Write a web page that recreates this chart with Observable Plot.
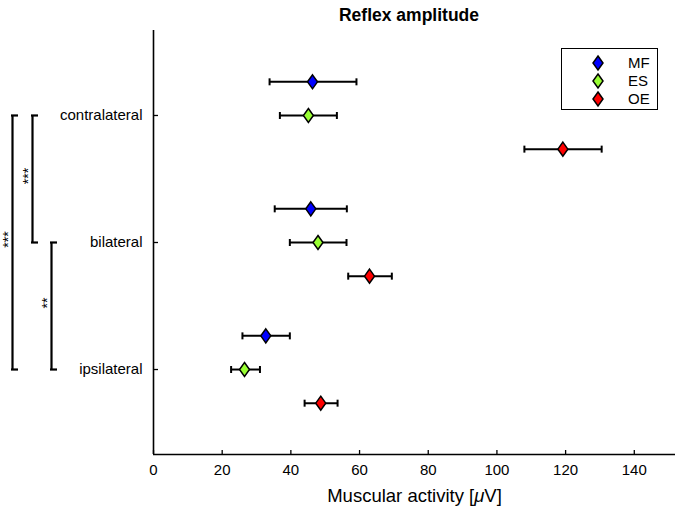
<!DOCTYPE html>
<html><head><meta charset="utf-8">
<script src="https://cdn.jsdelivr.net/npm/d3@7"></script>
<script src="https://cdn.jsdelivr.net/npm/@observablehq/plot@0.6"></script>
<style>
body{margin:0;background:#fff;font-family:"Liberation Sans",Arial,Helvetica,sans-serif;color:#000;}
#wrap{position:relative;width:680px;height:510px;overflow:hidden;}
#title{position:absolute;left:153px;top:5px;width:512px;text-align:center;font-weight:bold;font-size:17.5px;line-height:20px;}
#chart{position:absolute;left:0;top:26px;}
#legend{position:absolute;left:561px;top:48px;width:95px;height:60px;border:1px solid #000;background:#fff;}
.lrow{position:absolute;left:0;width:95px;height:18px;}
.lrow svg{position:absolute;left:28px;top:0;}
.lrow span{position:absolute;left:66px;top:0;font-size:15px;line-height:18px;}
</style></head>
<body><div id="wrap"><div id="title">Reflex amplitude</div><div id="chart"></div><div id="legend"></div></div>
<script>
// ---- data ----
const categories = ["contralateral", "bilateral", "ipsilateral"];
const series = ["MF", "ES", "OE"];
const seriesColors = ["#0000ff", "#99ff33", "#ff0000"];
const mfMean = [46.3, 45.8, 32.7];
const mfLow  = [33.8, 35.3, 25.9];
const mfHigh = [59.1, 56.3, 39.7];
const esMean = [45.1, 47.9, 26.5];
const esLow  = [36.8, 39.7, 22.6];
const esHigh = [53.4, 56.2, 31.0];
const oeMean = [119.2, 62.9, 48.7];
const oeLow  = [108.0, 56.7, 44.0];
const oeHigh = [130.5, 69.4, 53.6];
const xTicks = [0, 20, 40, 60, 80, 100, 120, 140];
const xMax = 152;
const bracketFrom = ["contralateral", "contralateral", "bilateral"];
const bracketTo   = ["ipsilateral", "bilateral", "ipsilateral"];
const bracketText = ["***", "***", "**"];
const title = "Reflex amplitude";
const xLabelParts = ["Muscular activity [", "μ", "V]"];

// ---- build table ----
const means = [mfMean, esMean, oeMean], lows = [mfLow, esLow, oeLow], highs = [mfHigh, esHigh, oeHigh];
const groupShift = 0.265;
const rows = [];
series.forEach((s, si) => categories.forEach((c, ci) => rows.push({
  series: s, category: c, color: seriesColors[si],
  pos: ci + (si - 1) * groupShift,
  mean: means[si][ci], low: lows[si][ci], high: highs[si][ci]
})));
const brackets = bracketFrom.map((f, i) => ({from: categories.indexOf(f), to: categories.indexOf(bracketTo[i]), label: bracketText[i]}));

const diamond = {draw(ctx) { const w = 5, h = 7; ctx.moveTo(0, -h); ctx.lineTo(w, 0); ctx.lineTo(0, h); ctx.lineTo(-w, 0); ctx.closePath(); }};
const cap = {draw(ctx) { ctx.moveTo(0, -3.5); ctx.lineTo(0, 3.5); }};
const yDomain = [-0.669, 2.669];

const bracketDx = [-141, -121, -102];
const bracketMarks = brackets.flatMap((b, i) => [
  Plot.ruleX([b], {x: () => 0, y1: "from", y2: "to", dx: bracketDx[i], stroke: "black", strokeWidth: 2.2}),
  Plot.ruleY([b.from, b.to], {y: d => d, x1: () => 0, x2: () => 0, dx: bracketDx[i] - 1, insetRight: -7, stroke: "black", strokeWidth: 2.2}),
  Plot.text([b], {x: () => 0, y: d => (d.from + d.to) / 2, text: "label", rotate: -90, dx: bracketDx[i] - 4, dy: -3, fontSize: 14, fill: "black"})
]);

const plot = Plot.plot({
  width: 680, height: 484,
  marginTop: 4, marginBottom: 56, marginLeft: 153, marginRight: 5,
  style: {fontFamily: '"Liberation Sans", Arial, sans-serif', fontSize: "15px", color: "black", background: "white"},
  x: {domain: [0, xMax]},
  y: {domain: yDomain, reverse: true},
  color: {type: "identity"},
  marks: [
    Plot.axisX({ticks: xTicks, tickSize: -4, tickPadding: 14, fontSize: 15, label: xLabelParts.join(""), labelAnchor: "center", labelOffset: 47, labelArrow: "none", strokeWidth: 1.3}),
    Plot.axisY({ticks: [0, 1, 2], tickFormat: i => categories[i], tickSize: -5, tickPadding: 16, fontSize: 15, label: null, strokeWidth: 1.3}),
    Plot.ruleX([0], {stroke: "black", strokeWidth: 1.6}),
    Plot.ruleY([yDomain[1]], {stroke: "black", strokeWidth: 1.6}),
    Plot.ruleY(rows, {y: "pos", x1: "low", x2: "high", stroke: "black", strokeWidth: 2}),
    Plot.dot(rows, {x: "low", y: "pos", symbol: cap, stroke: "black", strokeWidth: 2}),
    Plot.dot(rows, {x: "high", y: "pos", symbol: cap, stroke: "black", strokeWidth: 2}),
    Plot.dot(rows, {x: "mean", y: "pos", symbol: diamond, fill: "color", stroke: "black", strokeWidth: 1.5}),
    ...bracketMarks
  ]
});
document.getElementById("chart").appendChild(plot);

// italic mu in x label, larger font
d3.select(plot).selectAll('[aria-label="x-axis label"]').attr("font-size", 18.5);
d3.select(plot).selectAll('[aria-label="x-axis label"] text').each(function() {
  const t = d3.select(this);
  t.attr("font-size", 18.5).text(null);
  xLabelParts.forEach((p, i) => t.append("tspan").attr("font-style", i === 1 ? "italic" : null).text(p));
});

document.getElementById("title").textContent = title;

// legend
const leg = d3.select("#legend");
series.forEach((s, i) => {
  const r = leg.append("div").attr("class", "lrow").style("top", (5 + i * 18) + "px");
  const sv = r.append("svg").attr("width", 16).attr("height", 18);
  sv.append("path").attr("d", "M8,2L13,9L8,16L3,9Z").attr("fill", seriesColors[i]).attr("stroke", "black").attr("stroke-width", 1.5);
  r.append("span").text(s);
});
</script></body></html>
